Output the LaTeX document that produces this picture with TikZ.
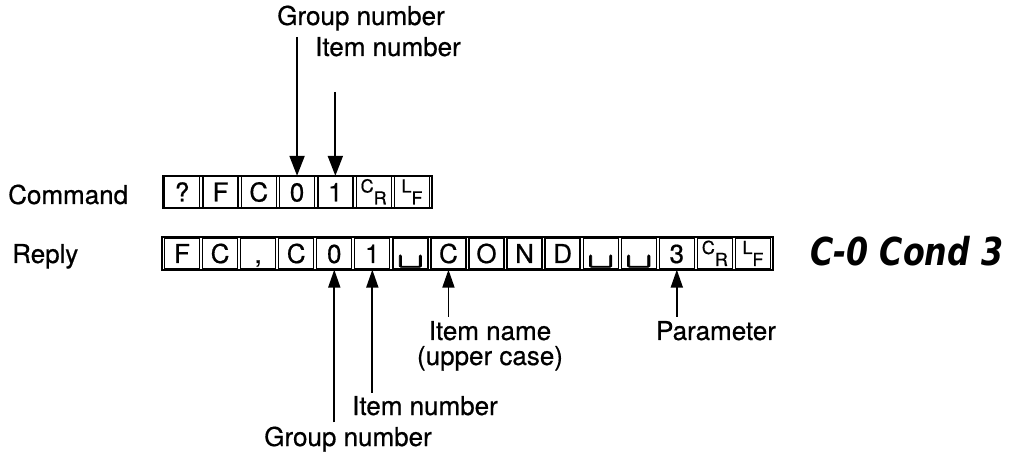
\documentclass[tikz,border=0pt]{standalone}
\usepackage{fontspec}
\setmainfont{TeX Gyre Heros}[FakeBold=0.6]
\newfontfamily\symfont{Latin Modern Mono}[FakeBold=1.5]
\newfontfamily\lcdfont{DejaVu Sans}
\usetikzlibrary{arrows.meta,fit,calc}

% small two-letter control characters (CR, LF)
\newcommand\ctlchar[2]{\raisebox{9pt}{\fontsize{18}{18}\selectfont #1}\raisebox{-3pt}{\fontsize{18}{18}\selectfont #2}}
\newcommand\crsym{\ctlchar{C}{R}}
\newcommand\lfsym{\ctlchar{L}{F}}
\newcommand\spsym{{\symfont\fontsize{26}{26}\selectfont\scalebox{2.0}[1.3]{␣}}}

\begin{document}
\begin{tikzpicture}[x=1pt,y=-1pt,
  cell/.style={draw,line width=1.3pt,minimum width=35pt,minimum height=31pt,
    inner sep=0pt,text height=19pt,text depth=0pt,
    font=\fontsize{26}{26}\selectfont},
  frame/.style={draw,line width=2pt,inner xsep=1.5pt,inner ysep=0pt},
  lbl/.style={font=\fontsize{26}{26}\selectfont,inner sep=0pt},
  arr/.style={line width=2pt,-{Triangle[length=20pt,width=15pt]}},
  arrs/.style={line width=1.8pt,-{Triangle[length=18pt,width=12pt]}}]
\useasboundingbox (0,0) rectangle (1020,454);

% command string
\foreach \t [count=\i from 0] in {?,F,C,0,1,\crsym,\lfsym}
  \node[cell] (cmd\i) at ({163+38.3*(\i+0.5)},192) {\t};
\node[frame,fit=(cmd0)(cmd6)] (cmdframe) {};

% reply string
\foreach \t [count=\i from 0] in {F,C,{,},C,0,1,\spsym,C,O,N,D,\spsym,\spsym,3,\crsym,\lfsym}
  \node[cell] (rep\i) at ({163+38.06*(\i+0.5)},253.5) {\t};
\node[frame,fit=(rep0)(rep15)] (repframe) {};

% row titles
\node[lbl,anchor=base west] (cmdlbl) at (8,204) {Command};
\node[lbl,anchor=base west] (replbl) at (12,263) {Reply};

% display read-out
\node[inner sep=0pt,anchor=base west,font=\lcdfont\bfseries\itshape\fontsize{27.5}{28}\selectfont]
  (lcd) at (810,266) {\scalebox{1.155}[1.4]{C-0 Cond 3}};

% labels above the command
\node[lbl,anchor=base] (grp1) at (361,25) {Group number};
\node[lbl,anchor=base] (itm1) at (388,56) {Item number};
\draw[arr] ($(cmd3 |- grp1.south)+(0,6)$) -- (cmd3.north);
\draw[arr] ($(cmd4.north)+(0,-84)$) -- (cmd4.north);

% labels below the reply
\node[lbl,anchor=base] (name) at (490,340) {Item name};
\node[lbl,anchor=base] (case) at (490,365) {(upper case)};
\node[lbl,anchor=base] (par) at (716,340) {Parameter};
\node[lbl,anchor=base] (itm2) at (425,415) {Item number};
\node[lbl,anchor=base] (grp2) at (348,446) {Group number};
\draw[arrs] ($(rep4 |- grp2.north)+(0,-4)$) -- (rep4.south);
\draw[arrs] ($(rep5 |- itm2.north)+(0,-3)$) -- (rep5.south);
\draw[arrs] ($(rep7 |- name.north)+(0,-4)$) -- (rep7.south);
\draw[arrs] ($(rep13 |- par.north)+(0,-4)$) -- (rep13.south);
\end{tikzpicture}
\end{document}
